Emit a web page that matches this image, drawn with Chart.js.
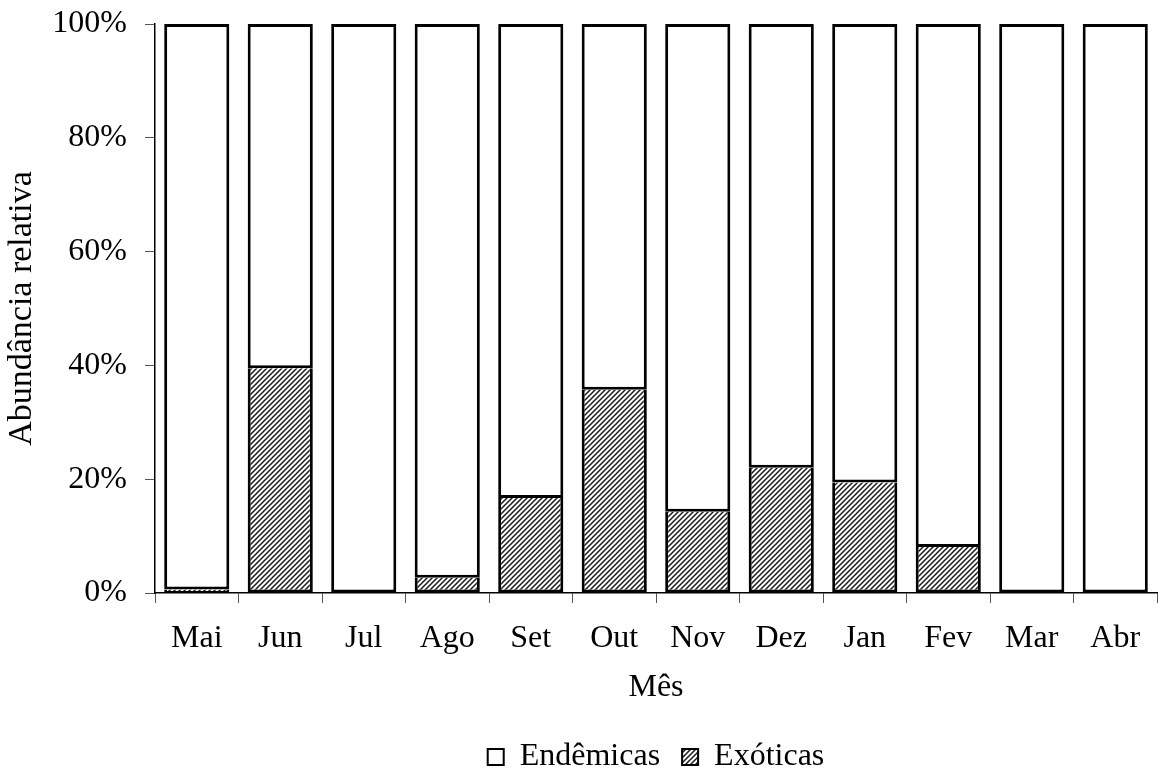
<!DOCTYPE html>
<html>
<head>
<meta charset="utf-8">
<script src="https://cdn.jsdelivr.net/npm/chart.js@4"></script>
<style>
  body { margin: 0; background: #fff; }
  #wrap { width: 1163px; height: 775px; }
</style>
</head>
<body>
<div id="wrap"><canvas id="chart" width="1163" height="775"></canvas></div>
<script>
const meses = ["Mai", "Jun", "Jul", "Ago", "Set", "Out", "Nov", "Dez", "Jan", "Fev", "Mar", "Abr"];
const exoticas = [0.6, 39.5, 0, 2.7, 16.7, 35.7, 14.3, 22.0, 19.4, 8.1, 0, 0];
const endemicas = [99.4, 60.5, 100, 97.3, 83.3, 64.3, 85.7, 78.0, 80.6, 91.9, 100, 100];
const yTicks = [0, 20, 40, 60, 80, 100];

// diagonal hatch like the original fill
function hatch() {
    const c = document.createElement("canvas");
    c.width = 5;
    c.height = 5;
    const g = c.getContext("2d");
    g.fillStyle = "#fff";
    g.fillRect(0, 0, 5, 5);
    g.strokeStyle = "#1a1a1a";
    g.lineWidth = 1.5;
    g.beginPath();
    g.moveTo(-1, 6); g.lineTo(6, -1);
    g.moveTo(-4, 4); g.lineTo(4, -4);
    g.moveTo(1, 9); g.lineTo(9, 1);
    g.stroke();
    return g.createPattern(c, "repeat");
}

const font = { family: "'Liberation Serif', 'Times New Roman', serif", size: 32 };

const ctx = document.getElementById("chart").getContext("2d");
new Chart(ctx, {
    type: "bar",
    data: {
        labels: meses,
        datasets: [
            {
                label: "Exóticas",
                data: exoticas,
                backgroundColor: hatch(),
                borderColor: "#000",
                borderWidth: 3,
                borderSkipped: "top"
            },
            {
                label: "Endêmicas",
                data: endemicas,
                backgroundColor: "#fff",
                borderColor: "#000",
                borderWidth: 3,
                borderSkipped: false
            }
        ]
    },
    options: {
        responsive: false,
        animation: false,
        layout: { padding: { top: 0, right: 6, left: 2, bottom: -8 } },
        datasets: { bar: { categoryPercentage: 1, barPercentage: 0.78 } },
        plugins: {
            tooltip: { enabled: false },
            legend: {
                position: "bottom",
                fullSize: false,
                reverse: true,
                labels: {
                    font: font,
                    color: "#000",
                    boxWidth: 16,
                    boxHeight: 16,
                    padding: 22,
                    generateLabels(chart) {
                        const items = Chart.defaults.plugins.legend.labels.generateLabels(chart);
                        items.forEach(it => { it.lineWidth = 2; it.strokeStyle = "#000"; });
                        return items;
                    }
                }
            }
        },
        scales: {
            x: {
                stacked: true,
                afterFit(axis) { axis.height = 126; },
                grid: { drawOnChartArea: false, color: "#555", tickLength: 10, offset: true },
                border: { color: "#000", width: 1.5 },
                ticks: { font: font, color: "#000", padding: 16 },
                title: { display: true, text: "Mês", font: font, color: "#000", padding: { top: 13, bottom: 12 } }
            },
            y: {
                stacked: true,
                min: 0,
                max: 100,
                afterBuildTicks(axis) { axis.ticks = yTicks.map(v => ({ value: v })); },
                afterFit(axis) { axis.width = 153; axis.paddingTop = 24; axis.paddingBottom = 0; },
                grid: { drawOnChartArea: false, color: "#555", tickLength: 10 },
                border: { color: "#000", width: 1.5 },
                ticks: { font: font, color: "#000", padding: 18, callback: v => v + "%" },
                title: { display: true, text: "Abundância relativa", font: { family: font.family, size: 34 }, color: "#000", padding: { top: 0, bottom: 0 } }
            }
        }
    }
});
</script>
</body>
</html>
